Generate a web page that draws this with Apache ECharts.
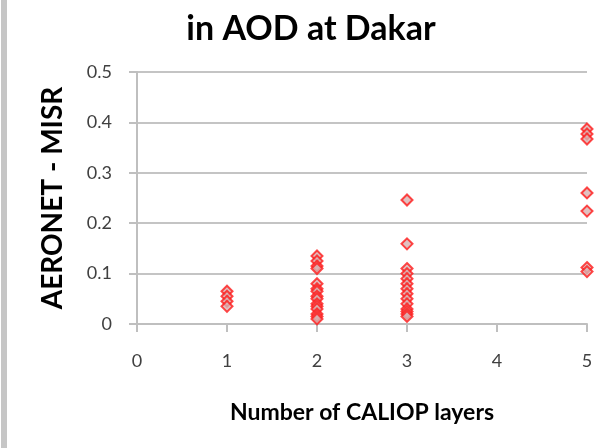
<!DOCTYPE html>
<html>
<head>
<meta charset="utf-8">
<script src="https://cdn.jsdelivr.net/npm/echarts@6/dist/echarts.min.js"></script>
<style>
  html, body { margin: 0; padding: 0; background: #fff; }
  #chart { width: 606px; height: 448px; }
</style>
</head>
<body>
<div id="chart"></div>
<script>
// values, grouped by number of CALIOP layers
var layers1 = [0.065, 0.055, 0.045, 0.035];
var layers2 = [0.135, 0.125, 0.115, 0.11, 0.08, 0.07, 0.065, 0.055, 0.05, 0.04, 0.035, 0.03, 0.02, 0.015, 0.01];
var layers3 = [0.246, 0.159, 0.11, 0.1, 0.09, 0.08, 0.07, 0.06, 0.05, 0.04, 0.03, 0.025, 0.02, 0.015];
var layers5 = [0.387, 0.377, 0.367, 0.26, 0.224, 0.112, 0.104];
var xTicks = [0, 1, 2, 3, 4, 5];
var yTicks = [0, 0.1, 0.2, 0.3, 0.4, 0.5];

var groups = [[1, layers1], [2, layers2], [3, layers3], [5, layers5]];
var points = [];
groups.forEach(function (g) {
  g[1].forEach(function (v) { points.push([g[0], v]); });
});

var font = 'Lato, "Open Sans", sans-serif';
var chart = echarts.init(document.getElementById('chart'));

chart.setOption({
  animation: false,
  title: {
    text: 'in AOD at Dakar',
    left: 306,
    textAlign: 'center',
    top: 7,
    textStyle: { fontFamily: font, fontSize: 34, fontWeight: 'bold', color: '#000' }
  },
  graphic: [{
    type: 'rect',
    shape: { x: 1, y: 0, width: 6, height: 448 },
    style: { fill: '#c6c6c6' }
  }],
  grid: { left: 137, right: 19, top: 72, bottom: 124 },
  xAxis: {
    type: 'value',
    min: xTicks[0],
    max: xTicks[xTicks.length - 1],
    interval: 1,
    name: 'Number of CALIOP layers',
    nameLocation: 'middle',
    nameGap: 77,
    nameTextStyle: { fontFamily: font, fontSize: 23, fontWeight: 'bold', color: '#000' },
    axisLine: { lineStyle: { color: '#bfbfbf', width: 2 } },
    axisTick: { show: true, inside: false, length: 8, lineStyle: { color: '#bfbfbf', width: 2 } },
    axisLabel: { margin: 28, fontFamily: font, fontSize: 18, color: '#404040' },
    splitLine: { show: false }
  },
  yAxis: {
    type: 'value',
    min: yTicks[0],
    max: yTicks[yTicks.length - 1],
    interval: 0.1,
    name: 'AERONET - MISR',
    nameLocation: 'middle',
    nameGap: 70,
    nameRotate: 90,
    nameTextStyle: { fontFamily: font, fontSize: 28, fontWeight: 'bold', color: '#000' },
    axisLine: { show: true, lineStyle: { color: '#bfbfbf', width: 2 } },
    axisTick: { show: true, inside: false, length: 8, lineStyle: { color: '#bfbfbf', width: 2 } },
    axisLabel: { margin: 25, fontFamily: font, fontSize: 18, color: '#404040' },
    splitLine: { show: true, lineStyle: { color: '#c4c4c4', width: 2 } }
  },
  series: [{
    type: 'scatter',
    data: points,
    symbol: 'diamond',
    symbolSize: 11,
    itemStyle: { color: '#d9b0b0', borderColor: '#ff1a1a', borderWidth: 2 }
  }]
});
</script>
</body>
</html>
